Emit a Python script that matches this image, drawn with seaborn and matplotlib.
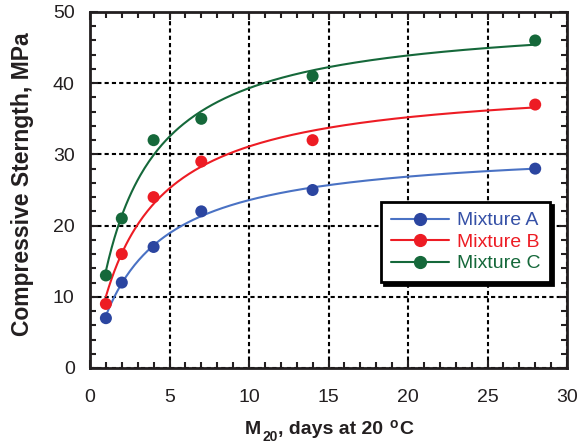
import numpy as np
import pandas as pd
import matplotlib
matplotlib.use("Agg")
import matplotlib.pyplot as plt
import seaborn as sns
from matplotlib.lines import Line2D
from matplotlib.ticker import MultipleLocator

# ---- data ----
days = [1, 2, 4, 7, 14, 28]
mix_a = [7, 12, 17, 22, 25, 28]
mix_b = [9, 16, 24, 29, 32, 37]
mix_c = [13, 21, 32, 35, 41, 46]
series_names = ["Mixture A", "Mixture B", "Mixture C"]
x_ticks = [0, 5, 10, 15, 20, 25, 30]
y_ticks = [0, 10, 20, 30, 40, 50]
y_label = "Compressive Sterngth, MPa"
x_label_parts = ["M", "20", ", days at 20", "o", "C"]

marker_colors = {"Mixture A": "#2B45A0", "Mixture B": "#ED1C24", "Mixture C": "#15683A"}
line_colors = {"Mixture A": "#4A72C4", "Mixture B": "#ED1C24", "Mixture C": "#15683A"}
legend_text_colors = {"Mixture A": "#3550A6", "Mixture B": "#ED1C24", "Mixture C": "#15683A"}

sns.set_theme(style="white")
plt.rcParams["font.family"] = ["Liberation Sans", "DejaVu Sans"]

text_col = "#231F20"
W, H = 583, 447

pts = pd.DataFrame({
    "days": days * 3,
    "strength": mix_a + mix_b + mix_c,
    "mixture": [n for n in series_names for _ in days],
})


def hyperbolic_fit(t, s):
    t = np.asarray(t, float)
    s = np.asarray(s, float)
    best = None
    for k in np.linspace(0.01, 3, 3000):
        f = k * t / (1 + k * t)
        su = (f * s).sum() / (f * f).sum()
        sse = ((su * f - s) ** 2).sum()
        if best is None or sse < best[0]:
            best = (sse, su, k)
    return best[1], best[2]


curves = []
tt = np.linspace(min(days), max(days), 300)
for name, vals in zip(series_names, [mix_a, mix_b, mix_c]):
    su, k = hyperbolic_fit(days, vals)
    curves.append(pd.DataFrame({"days": tt, "strength": su * k * tt / (1 + k * tt), "mixture": name}))
curves = pd.concat(curves, ignore_index=True)

fig = plt.figure(figsize=(W / 100, H / 100), dpi=100)
ax = fig.add_axes([90 / W, 1 - 368 / H, 477 / W, 356 / H])

sns.lineplot(data=curves, x="days", y="strength", hue="mixture", palette=line_colors,
             linewidth=1.5, legend=False, ax=ax, zorder=3)
sns.scatterplot(data=pts, x="days", y="strength", hue="mixture", palette=marker_colors,
                s=75, edgecolor="none", legend=False, ax=ax, zorder=4)

ax.set_xlim(0, 30)
ax.set_ylim(0, 50)
ax.set_xticks(x_ticks)
ax.set_yticks(y_ticks)
ax.xaxis.set_minor_locator(MultipleLocator(1))
ax.yaxis.set_minor_locator(MultipleLocator(2))
ax.tick_params(which="both", direction="in", top=True, right=True, bottom=True, left=True,
               color=text_col, width=1.5, labelsize=14, labelcolor=text_col)
ax.tick_params(axis="x", which="both", pad=15)
ax.tick_params(axis="y", which="both", pad=11)
ax.tick_params(which="major", length=6)
ax.tick_params(which="minor", length=4)
ax.grid(True, which="major", color="black", linewidth=1.5, linestyle=(0, (2, 1.5)))
ax.set_axisbelow(True)
for sp in ax.spines.values():
    sp.set_color(text_col)
    sp.set_linewidth(2)
    sp.set_visible(True)
ax.set_xlabel("")
ax.set_ylabel("")

# y label
fig.text(22.5 / W, 1 - 184.5 / H, y_label, rotation=90, ha="center", va="center",
         fontsize=16.5, fontweight="bold", color=text_col)

# x label built from pieces (subscript / superscript placed like the reference)
renderer = fig.canvas.get_renderer()
sizes = [14, 10, 14, 10, 14]
dys = [0, -7, 0, 6, 0]
gaps = [0, 1, 0, 7, 1]
texts = []
for part, fs in zip(x_label_parts, sizes):
    t = fig.text(0, 0, part, fontsize=fs, fontweight="bold", color=text_col, ha="left", va="baseline")
    texts.append(t)
widths = [t.get_window_extent(renderer).width for t in texts]
total = sum(widths) + sum(gaps)
x0 = 329 - total / 2
baseline = H - 434
for t, w, dy, g in zip(texts, widths, dys, gaps):
    x0 += g
    t.set_position((x0 / W, (baseline + dy) / H))
    x0 += w

handles = [Line2D([0], [0], color=line_colors[n], lw=1.5, marker="o", markersize=8.5,
                  markerfacecolor=marker_colors[n], markeredgecolor=marker_colors[n])
           for n in series_names]
leg = ax.legend(handles, series_names, loc="upper left",
                bbox_to_anchor=((381 - 90) / 477, (368 - 202) / 356),
                borderaxespad=0, fontsize=14, frameon=True, fancybox=False,
                shadow={"color": "black", "alpha": 1}, handlelength=3.0, handletextpad=0.4,
                labelspacing=0.2, borderpad=0.5,
                labelcolor=[legend_text_colors[n] for n in series_names])
leg.get_frame().set_edgecolor("black")
leg.get_frame().set_linewidth(2)
leg.get_frame().set_facecolor("white")
leg.set_zorder(10)

fig.savefig("out.png", dpi=100)
